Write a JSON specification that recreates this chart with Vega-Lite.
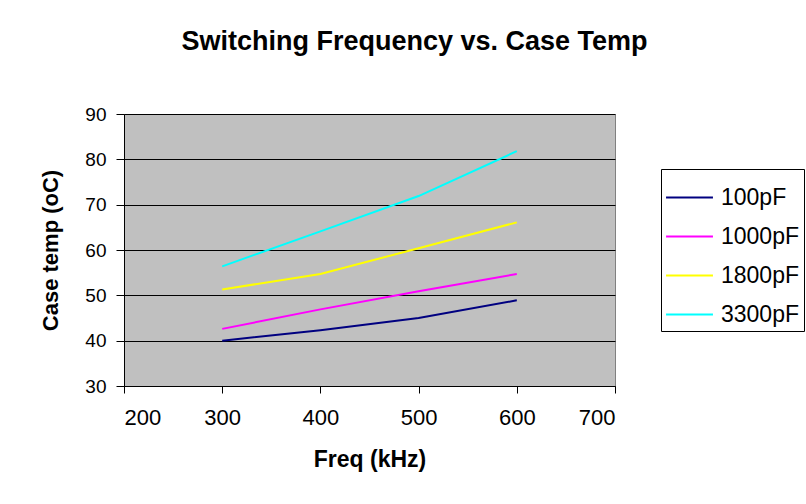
{
  "$schema": "https://vega.github.io/schema/vega-lite/v6.json",
  "width": 491,
  "height": 272,
  "autosize": {"type": "none"},
  "padding": {"left": 124, "top": 114, "right": 191, "bottom": 118},
  "background": "white",
  "title": {
    "text": "Switching Frequency vs. Case Temp",
    "font": "Liberation Sans",
    "fontSize": 27,
    "fontWeight": "bold",
    "color": "black",
    "anchor": "middle",
    "dx": 45,
    "offset": 49
  },
  "data": {
    "values": [
      {"freq": 300, "temp": 40.0, "cap": "100pF"},
      {"freq": 400, "temp": 42.3, "cap": "100pF"},
      {"freq": 500, "temp": 45.0, "cap": "100pF"},
      {"freq": 600, "temp": 48.9, "cap": "100pF"},
      {"freq": 300, "temp": 42.6, "cap": "1000pF"},
      {"freq": 400, "temp": 46.9, "cap": "1000pF"},
      {"freq": 500, "temp": 50.9, "cap": "1000pF"},
      {"freq": 600, "temp": 54.7, "cap": "1000pF"},
      {"freq": 300, "temp": 51.3, "cap": "1800pF"},
      {"freq": 400, "temp": 54.7, "cap": "1800pF"},
      {"freq": 500, "temp": 60.4, "cap": "1800pF"},
      {"freq": 600, "temp": 66.1, "cap": "1800pF"},
      {"freq": 300, "temp": 56.4, "cap": "3300pF"},
      {"freq": 400, "temp": 64.1, "cap": "3300pF"},
      {"freq": 500, "temp": 71.9, "cap": "3300pF"},
      {"freq": 600, "temp": 81.8, "cap": "3300pF"}
    ]
  },
  "mark": {"type": "line", "strokeWidth": 2},
  "encoding": {
    "x": {
      "field": "freq",
      "type": "quantitative",
      "scale": {"domain": [200, 700], "nice": false, "zero": false},
      "axis": {
        "title": "Freq (kHz)",
        "values": [200, 300, 400, 500, 600, 700],
        "grid": false,
        "domainColor": "black",
        "tickColor": "black",
        "tickSize": 7,
        "labelPadding": 14,
        "labelFont": "Liberation Sans",
        "labelFontSize": 22,
        "labelColor": "black",
        "titleFont": "Liberation Sans",
        "titleFontSize": 23,
        "titleFontWeight": "bold",
        "titleColor": "black",
        "titlePadding": 20
      }
    },
    "y": {
      "field": "temp",
      "type": "quantitative",
      "scale": {"domain": [30, 90], "nice": false, "zero": false},
      "axis": {
        "title": "Case temp (oC)",
        "values": [30, 40, 50, 60, 70, 80, 90],
        "grid": true,
        "gridColor": "black",
        "gridOpacity": 1,
        "gridWidth": 1,
        "domainColor": "black",
        "tickColor": "black",
        "tickSize": 8,
        "labelPadding": 10,
        "labelFont": "Liberation Sans",
        "labelFontSize": 19,
        "labelColor": "black",
        "titleFont": "Liberation Sans",
        "titleFontSize": 22,
        "titleFontWeight": "bold",
        "titleColor": "black",
        "titlePadding": 22
      }
    },
    "color": {
      "field": "cap",
      "type": "nominal",
      "scale": {
        "domain": ["100pF", "1000pF", "1800pF", "3300pF"],
        "range": ["#000080", "#FF00FF", "#FFFF00", "#00FFFF"]
      },
      "legend": {
        "title": null,
        "orient": "none",
        "legendX": 537,
        "legendY": 55,
        "symbolType": "stroke",
        "symbolSize": 2200,
        "symbolStrokeWidth": 2,
        "labelFont": "Liberation Sans",
        "labelFontSize": 23,
        "labelColor": "black",
        "rowPadding": 2,
        "strokeColor": "black",
        "fillColor": "white",
        "padding": 4,
        "labelOffset": 7
      }
    }
  },
  "config": {
    "view": {"fill": "#C0C0C0", "stroke": "#808080", "strokeWidth": 1}
  }
}
